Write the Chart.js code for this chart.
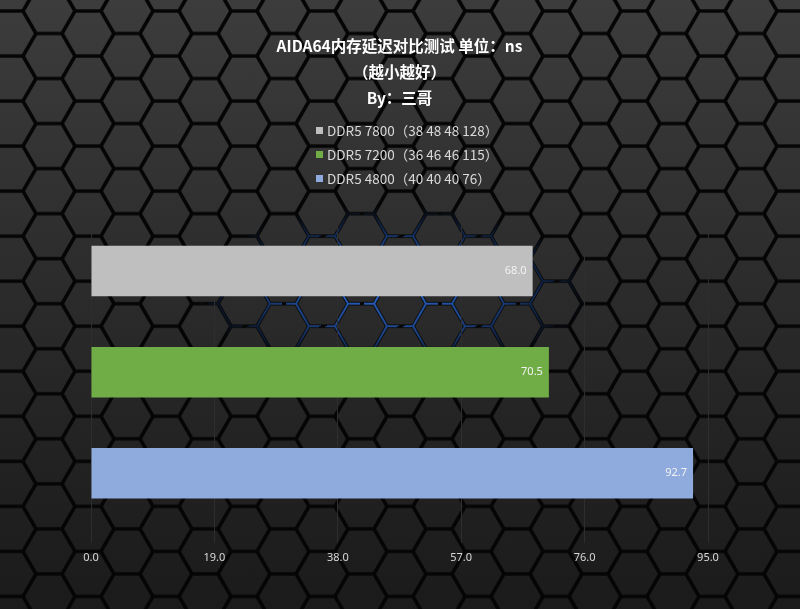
<!DOCTYPE html>
<html>
<head>
<meta charset="utf-8">
<script src="https://cdn.jsdelivr.net/npm/chart.js@4.4.1/dist/chart.umd.min.js"></script>
<style>
  html, body { margin:0; padding:0; background:#222; overflow:hidden; }
  #wrap { position:relative; width:800px; height:609px; }
  #bg, #chart { position:absolute; left:0; top:0; }
  #legend { position:absolute; left:316px; top:118px; font:13.5px 'Noto Sans CJK SC','Noto Sans',sans-serif; color:#d9d9d9; }
  .item { display:flex; align-items:center; height:24px; white-space:pre; }
  .box { width:7px; height:7px; margin-right:4px; }
</style>
</head>
<body>
<div id="wrap">
  <svg id="bg" width="800" height="609"></svg>
  <canvas id="chart" width="800" height="609"></canvas>
  <div id="legend"></div>
</div>
<script>
// chart data
const titleLines = ['AIDA64内存延迟对比测试 单位：ns', '（越小越好）', 'By：三哥'];
const categories = ['DDR5 7800（38 48 48 128）', 'DDR5 7200（36 46 46 115）', 'DDR5 4800（40 40 40 76）'];
const latency = [68.0, 70.5, 92.7];
const barColors = ['#BFBFBF', '#70AD47', '#8FAADC'];
const xTicks = [0, 19, 38, 57, 76, 95];

const FONT = "'Noto Sans CJK SC','Noto Sans',sans-serif";

// hex tile background (decoration only)
function hexPath(R){
  const h = Math.sqrt(3) * R, centers = [[0,0],[3*R,0],[0,h],[3*R,h],[1.5*R,h/2]];
  return centers.map(([cx,cy]) => {
    const pts = [0,60,120,180,240,300].map(a => {
      const r = a * Math.PI / 180;
      return (cx + R*Math.cos(r)).toFixed(2) + ',' + (cy + R*Math.sin(r)).toFixed(2);
    });
    return 'M' + pts.join('L') + 'Z';
  }).join(' ');
}
(function drawBg(){
  const R = 26, h = Math.sqrt(3) * R, d = hexPath(R);
  document.getElementById('bg').innerHTML = `
    <defs>
      <linearGradient id="fillG" x1="0" y1="0" x2="0" y2="1">
        <stop offset="0" stop-color="#3c3c3c"/>
        <stop offset="0.4" stop-color="#2e2e2e"/>
        <stop offset="0.75" stop-color="#222"/>
        <stop offset="1" stop-color="#1b1b1b"/>
      </linearGradient>
      <pattern id="hex" width="${3*R}" height="${h}" patternUnits="userSpaceOnUse" patternTransform="translate(49,11)">
        <path d="${d}" fill="none" stroke="#050505" stroke-width="3.6"/>
      </pattern>
      <pattern id="hexBlue" width="${3*R}" height="${h}" patternUnits="userSpaceOnUse" patternTransform="translate(49,11)">
        <path d="${d}" fill="none" stroke="#2f72e6" stroke-width="2" stroke-dasharray="14 6"/>
      </pattern>
      <radialGradient id="glowG">
        <stop offset="0" stop-color="#fff" stop-opacity="0.9"/>
        <stop offset="0.5" stop-color="#fff" stop-opacity="0.6"/>
        <stop offset="1" stop-color="#fff" stop-opacity="0"/>
      </radialGradient>
      <mask id="glowM"><ellipse cx="390" cy="290" rx="200" ry="85" fill="url(#glowG)"/></mask>
    </defs>
    <rect width="800" height="609" fill="url(#fillG)"/>
    <rect width="800" height="609" fill="url(#hex)"/>
    <rect width="800" height="609" fill="url(#hexBlue)" mask="url(#glowM)"/>`;
})();

const valueLabels = {
  id: 'valueLabels',
  afterDatasetsDraw(chart){
    const ctx = chart.ctx;
    ctx.save();
    ctx.font = "11px 'Noto Sans',sans-serif";
    ctx.fillStyle = '#f2f2f2';
    ctx.textAlign = 'right';
    ctx.textBaseline = 'middle';
    chart.data.datasets.forEach((ds, i) => {
      chart.getDatasetMeta(i).data.forEach((bar, j) => {
        const v = ds.data[j];
        if (v == null) return;
        ctx.fillText(v.toFixed(1), bar.x - 6, bar.y);
      });
    });
    ctx.restore();
  }
};

const chart = new Chart(document.getElementById('chart'), {
  type: 'bar',
  data: {
    labels: categories,
    datasets: categories.map((c, i) => ({
      label: c,
      data: latency.map((v, j) => j === i ? v : null),
      backgroundColor: barColors[i],
      grouped: false,
      categoryPercentage: 1,
      barPercentage: 0.5
    }))
  },
  options: {
    indexAxis: 'y',
    responsive: false,
    animation: false,
    layout: { padding: { left: 91, right: 92, top: 0, bottom: 37 } },
    plugins: {
      legend: { display: false },
      tooltip: { enabled: false },
      title: {
        display: true,
        text: titleLines,
        color: '#ffffff',
        font: { family: FONT, size: 15.5, weight: 'bold', lineHeight: 26/15.5 },
        padding: { top: 33, bottom: 109.5 }
      }
    },
    scales: {
      x: {
        min: 0, max: 95,
        afterBuildTicks: s => { s.ticks = xTicks.map(v => ({ value: v })); },
        grid: { color: '#2e2e2e', lineWidth: 1, tickLength: 19, drawTicks: true },
        border: { display: false },
        ticks: { color: '#d9d9d9', padding: 8, font: { family: "'Noto Sans',sans-serif", size: 11 }, callback: v => Number(v).toFixed(1) }
      },
      y: { display: false }
    }
  },
  plugins: [valueLabels]
});

// legend
document.getElementById('legend').innerHTML = chart.data.datasets.map(ds =>
  `<div class="item"><span class="box" style="background:${ds.backgroundColor}"></span>${ds.label}</div>`
).join('');
</script>
</body>
</html>
